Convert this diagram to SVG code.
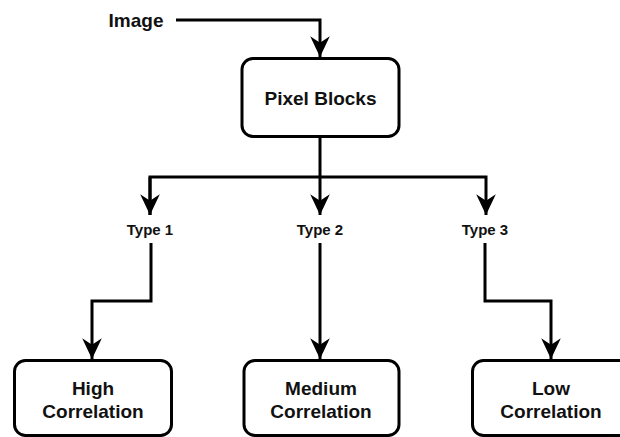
<svg xmlns="http://www.w3.org/2000/svg" width="620" height="437" viewBox="0 0 620 437">
<style>
.box{fill:#fff;stroke:#000;stroke-width:3}
.lbl{font-family:"Liberation Sans",Arial,sans-serif;font-weight:bold;font-size:19px;fill:#111;text-anchor:middle}
.small{font-size:15px}
.edge{fill:none;stroke:#000;stroke-width:3;stroke-linejoin:miter}
</style>
<defs>
<marker id="arr" markerUnits="userSpaceOnUse" markerWidth="24" markerHeight="24" viewBox="-20 -10 22 20" refX="0" refY="0" orient="auto">
<path d="M0,0 L-19,-9 L-13,0 L-19,9 Z" fill="#000"/>
</marker>
</defs>
<rect width="620" height="437" fill="#fff"/>
<g id="connectors">
<path class="edge" d="M176,20 H320 V57" marker-end="url(#arr)"/>
<path class="edge" d="M320,137 V177"/>
<path class="edge" d="M150,215 V177 H486 V215" marker-end="url(#arr)"/>
<path class="edge" d="M150,177 V215" marker-end="url(#arr)"/>
<path class="edge" d="M320,177 V215" marker-end="url(#arr)"/>
<path class="edge" d="M151,243 V301 H92 V359" marker-end="url(#arr)"/>
<path class="edge" d="M320,243 V359" marker-end="url(#arr)"/>
<path class="edge" d="M485,243 V301 H551 V359" marker-end="url(#arr)"/>
</g>
<g id="image">
<text class="lbl" x="136" y="27">Image</text>
</g>
<g id="pixel-blocks">
<rect class="box" x="242" y="58.5" width="157" height="78" rx="11"/>
<text class="lbl" x="320.5" y="105">Pixel Blocks</text>
</g>
<g id="type1">
<text class="lbl small" x="150" y="235">Type 1</text>
</g>
<g id="type2">
<text class="lbl small" x="320" y="235">Type 2</text>
</g>
<g id="type3">
<text class="lbl small" x="485" y="235">Type 3</text>
</g>
<g id="high">
<rect class="box" x="14.5" y="360.5" width="157" height="75" rx="11"/>
<text class="lbl" x="93" y="395">High</text>
<text class="lbl" x="93" y="418">Correlation</text>
</g>
<g id="medium">
<rect class="box" x="244" y="360.5" width="155" height="75" rx="11"/>
<text class="lbl" x="321" y="395">Medium</text>
<text class="lbl" x="321" y="418">Correlation</text>
</g>
<g id="low">
<rect class="box" x="472.5" y="360.5" width="157" height="75" rx="11"/>
<text class="lbl" x="551" y="395">Low</text>
<text class="lbl" x="551" y="418">Correlation</text>
</g>
</svg>
